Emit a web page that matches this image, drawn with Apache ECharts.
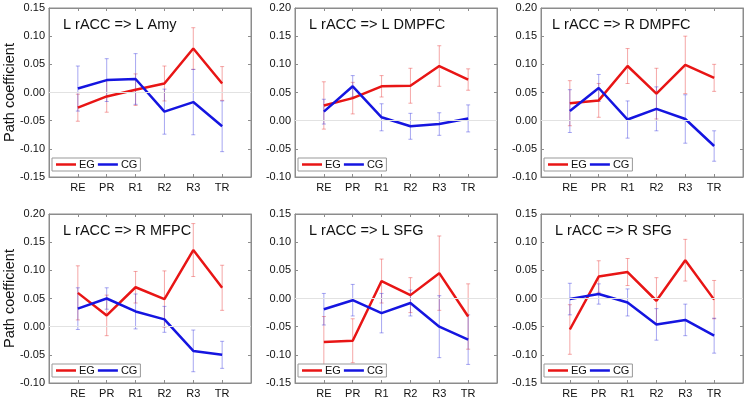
<!DOCTYPE html>
<html>
<head>
<meta charset="utf-8">
<script src="https://cdn.jsdelivr.net/npm/echarts@6/dist/echarts.min.js"></script>
<style>html,body{margin:0;padding:0;background:#fff}#c{width:747px;height:401px}</style>
</head>
<body>
<div id="c"></div>
<script>
const categories = ['RE', 'PR', 'R1', 'R2', 'R3', 'TR'];
const panelTitles = ['L rACC => L Amy', 'L rACC => L DMPFC', 'L rACC => R DMPFC',
                     'L rACC => R MFPC', 'L rACC => L SFG', 'L rACC => R SFG'];
const yMins = [-0.15, -0.10, -0.10, -0.10, -0.15, -0.15];
const yMaxs = [0.15, 0.20, 0.20, 0.20, 0.15, 0.15];
const yTitle = 'Path coefficient';
const groupNames = ['EG', 'CG'];

const p1EG = [-0.027, -0.007, 0.005, 0.016, 0.078, 0.016];
const p1EGerr = [0.024, 0.028, 0.028, 0.031, 0.037, 0.030];
const p1CG = [0.007, 0.022, 0.024, -0.034, -0.017, -0.060];
const p1CGerr = [0.040, 0.038, 0.045, 0.040, 0.058, 0.045];

const p2EG = [0.027, 0.040, 0.061, 0.062, 0.097, 0.073];
const p2EGerr = [0.042, 0.028, 0.019, 0.031, 0.036, 0.019];
const p2CG = [0.016, 0.061, 0.006, -0.010, -0.006, 0.004];
const p2CGerr = [0.022, 0.019, 0.024, 0.023, 0.020, 0.024];

const p3EG = [0.031, 0.036, 0.097, 0.048, 0.099, 0.076];
const p3EGerr = [0.040, 0.030, 0.031, 0.045, 0.051, 0.024];
const p3CG = [0.017, 0.058, 0.002, 0.021, 0.003, -0.045];
const p3CGerr = [0.038, 0.024, 0.033, 0.039, 0.043, 0.027];

const p4EG = [0.060, 0.020, 0.070, 0.049, 0.136, 0.069];
const p4EGerr = [0.048, 0.036, 0.028, 0.050, 0.047, 0.040];
const p4CG = [0.032, 0.050, 0.027, 0.013, -0.043, -0.050];
const p4CGerr = [0.037, 0.019, 0.031, 0.023, 0.037, 0.024];

const p5EG = [-0.077, -0.075, 0.031, 0.006, 0.045, -0.032];
const p5EGerr = [0.045, 0.039, 0.039, 0.031, 0.066, 0.058];
const p5CG = [-0.019, -0.003, -0.026, -0.008, -0.050, -0.073];
const p5CGerr = [0.028, 0.028, 0.035, 0.023, 0.055, 0.044];

const p6EG = [-0.055, 0.039, 0.047, -0.004, 0.068, -0.002];
const p6EGerr = [0.044, 0.028, 0.024, 0.041, 0.037, 0.034];
const p6CG = [-0.001, 0.008, -0.007, -0.046, -0.038, -0.066];
const p6CGerr = [0.028, 0.018, 0.024, 0.028, 0.028, 0.031];

const panels = [
  [p1EG, p1EGerr, p1CG, p1CGerr],
  [p2EG, p2EGerr, p2CG, p2CGerr],
  [p3EG, p3EGerr, p3CG, p3CGerr],
  [p4EG, p4EGerr, p4CG, p4CGerr],
  [p5EG, p5EGerr, p5CG, p5CGerr],
  [p6EG, p6EGerr, p6CG, p6CGerr]
];

const FONT = "'Liberation Sans', Arial, sans-serif";
const lineColors = ['#e81515', '#1515e0'];
const errColors = ['rgba(232,60,60,0.45)', 'rgba(60,60,224,0.45)'];
const frameColor = '#8c8c8c';
const lefts = [49, 295, 541];
const tops = [8, 214];
const W = 202, H = 169;
const titleOffsets = [14, 14, 11, 14, 14, 14];

const option = {
  backgroundColor: '#fff',
  animation: false,
  grid: [], xAxis: [], yAxis: [], series: [], legend: [], title: [],
  graphic: []
};

panels.forEach((p, i) => {
  const col = i % 3, row = Math.floor(i / 3);
  const gl = lefts[col], gt = tops[row];
  option.grid.push({left: gl, top: gt, width: W, height: H, show: true,
    borderColor: frameColor, borderWidth: 1, backgroundColor: 'transparent'});
  const xBase = {gridIndex: i, type: 'value', min: 0, max: 7, interval: 1,
    axisLine: {show: true, onZero: false, lineStyle: {color: frameColor}},
    axisTick: {show: true, inside: true, length: 3, lineStyle: {color: frameColor}},
    splitLine: {show: false}};
  option.xAxis.push(Object.assign({}, xBase, {position: 'bottom',
    axisLabel: {show: true, fontSize: 11, fontFamily: FONT, color: '#111', margin: 5,
      formatter: v => (v >= 1 && v <= 6) ? categories[v - 1] : ''}}));
  option.xAxis.push(Object.assign({}, xBase, {position: 'top', axisLabel: {show: false}}));
  const yBase = {gridIndex: i, type: 'value', min: yMins[i], max: yMaxs[i], interval: 0.05,
    axisLine: {show: true, onZero: false, lineStyle: {color: frameColor}},
    axisTick: {show: true, inside: true, length: 3, lineStyle: {color: frameColor}},
    splitLine: {show: false}};
  option.yAxis.push(Object.assign({}, yBase, {position: 'left',
    axisLabel: {show: true, fontSize: 11, fontFamily: FONT, color: '#111', margin: 4,
      formatter: v => (Math.abs(v) < 1e-9 ? 0 : v).toFixed(2)}}));
  option.yAxis.push(Object.assign({}, yBase, {position: 'right', axisLabel: {show: false}}));

  const xi = i * 2, yi = i * 2;
  // zero reference line
  option.series.push({type: 'line', xAxisIndex: xi, yAxisIndex: yi, data: [], silent: true,
    markLine: {silent: true, symbol: 'none', label: {show: false},
      lineStyle: {color: '#e2e2e2', width: 1, type: 'solid'}, data: [{yAxis: 0}]}});
  [0, 1].forEach(g => {
    const mean = p[g * 2], err = p[g * 2 + 1];
    const ebData = mean.map((m, k) => [k + 1, m - err[k], m + err[k]]);
    option.series.push({
      type: 'custom', name: groupNames[g] + '_err', xAxisIndex: xi, yAxisIndex: yi, z: 2,
      silent: true, data: ebData,
      renderItem: (params, api) => {
        const x = api.value(0);
        const top = api.coord([x, api.value(2)]);
        const bot = api.coord([x, api.value(1)]);
        const c = errColors[g];
        const hw = 2;
        return {type: 'group', children: [
          {type: 'line', shape: {x1: top[0], y1: top[1], x2: bot[0], y2: bot[1]}, style: {stroke: c, lineWidth: 1}},
          {type: 'line', shape: {x1: top[0] - hw, y1: top[1], x2: top[0] + hw, y2: top[1]}, style: {stroke: c, lineWidth: 1}},
          {type: 'line', shape: {x1: bot[0] - hw, y1: bot[1], x2: bot[0] + hw, y2: bot[1]}, style: {stroke: c, lineWidth: 1}}
        ]};
      }
    });
  });
  [0, 1].forEach(g => {
    const mean = p[g * 2];
    option.series.push({
      type: 'line', name: groupNames[g], xAxisIndex: xi, yAxisIndex: yi, z: 3,
      data: mean.map((m, k) => [k + 1, m]),
      symbol: 'none', showSymbol: false,
      lineStyle: {color: lineColors[g], width: 2.5}, itemStyle: {color: lineColors[g]}
    });
  });
  option.legend.push({
    data: groupNames, left: gl + 3, top: gt + H - 19, orient: 'horizontal',
    icon: 'rect', itemWidth: 20, itemHeight: 2.5, itemGap: 3,
    padding: [1, 3, 1, 4], borderColor: '#999', borderWidth: 1, backgroundColor: '#fff',
    textStyle: {fontSize: 11, fontFamily: FONT, color: '#111', padding: [0, 0, 0, -2]},
    selectedMode: false, z: 10
  });
  option.title.push({
    text: panelTitles[i], left: gl + titleOffsets[i], top: gt + 9, padding: 0,
    textStyle: {fontSize: 14.5, fontWeight: 'normal', fontFamily: FONT, color: '#111'}
  });
  if (col === 0) {
    option.graphic.push({type: 'text', x: 10, y: gt + H / 2, rotation: Math.PI / 2,
      style: {text: yTitle, font: '14.5px ' + FONT, fill: '#111', align: 'center', verticalAlign: 'middle'}});
  }
});

const chart = echarts.init(document.getElementById('c'), null, {renderer: 'canvas'});
chart.setOption(option);
</script>
</body>
</html>
